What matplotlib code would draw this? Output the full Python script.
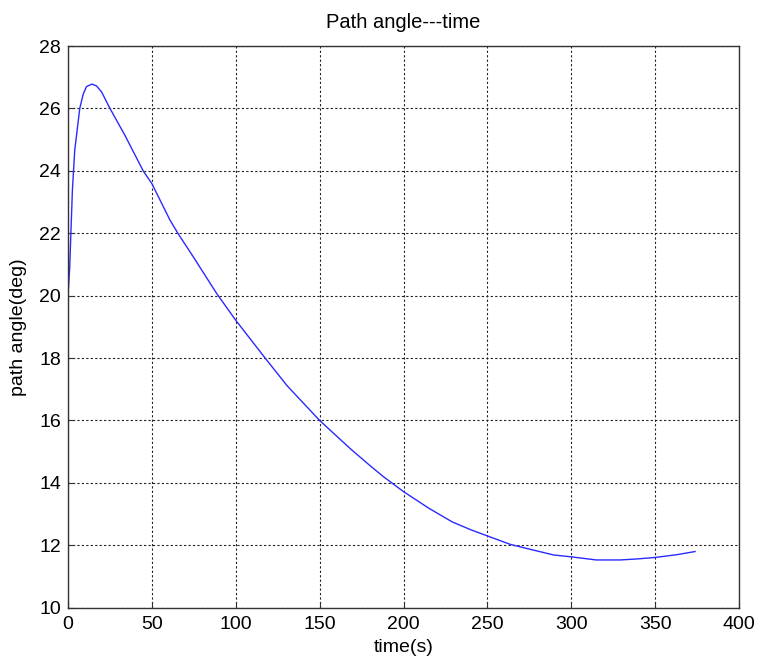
import matplotlib
matplotlib.use("Agg")
import matplotlib.pyplot as plt

time_s = [0, 1.0, 2.6, 4.0, 7.0, 9.0, 11.0, 14.3, 17, 20, 25, 33.9, 44.8, 50, 60.7,
          65.7, 74.6, 88.6, 100, 117.5, 130.5, 150, 168.2, 180.1, 188, 200, 215,
          229, 240, 250, 263.6, 275.6, 289.5, 300, 315, 329, 338.5, 350, 363, 373.8]
path_angle = [20.0, 20.9, 23.37, 24.66, 26.0, 26.45, 26.7, 26.78, 26.72, 26.53,
              26.0, 25.14, 24.0, 23.59, 22.43, 21.98, 21.25, 20.07, 19.21, 18.0,
              17.12, 16.0, 15.1, 14.55, 14.2, 13.72, 13.19, 12.75, 12.5, 12.30,
              12.03, 11.87, 11.69, 11.63, 11.53, 11.53, 11.56, 11.61, 11.70, 11.80]
x_ticks = [0, 50, 100, 150, 200, 250, 300, 350, 400]
y_ticks = [10, 12, 14, 16, 18, 20, 22, 24, 26, 28]

plt.rcParams['font.family'] = ['Liberation Sans', 'DejaVu Sans']

fig = plt.figure(figsize=(7.6, 6.63), dpi=100)
ax = fig.add_axes([0.0895, 0.0834, 0.8829, 0.8472])
ax.plot(time_s, path_angle, color='#2a2aff', linewidth=1.0)
ax.set_xlim(0, 400)
ax.set_ylim(10, 28)
ax.set_xticks(x_ticks)
ax.set_yticks(y_ticks)
ax.tick_params(direction='in', length=4, width=0.8, labelsize=14, color='#333333')
ax.tick_params(axis='x', pad=6)
ax.tick_params(axis='y', pad=5)
ax.grid(True, color='#222222', linestyle=(0, (2, 2)), linewidth=0.8)
for s in ax.spines.values():
    s.set_color('#333333')
    s.set_linewidth(1.0)
ax.set_title('Path angle---time', fontsize=14.5, pad=13)
ax.set_xlabel('time(s)', fontsize=14, labelpad=4)
ax.set_ylabel('path angle(deg)', fontsize=14, labelpad=9)

fig.savefig('out.png', dpi=100, facecolor='white')
